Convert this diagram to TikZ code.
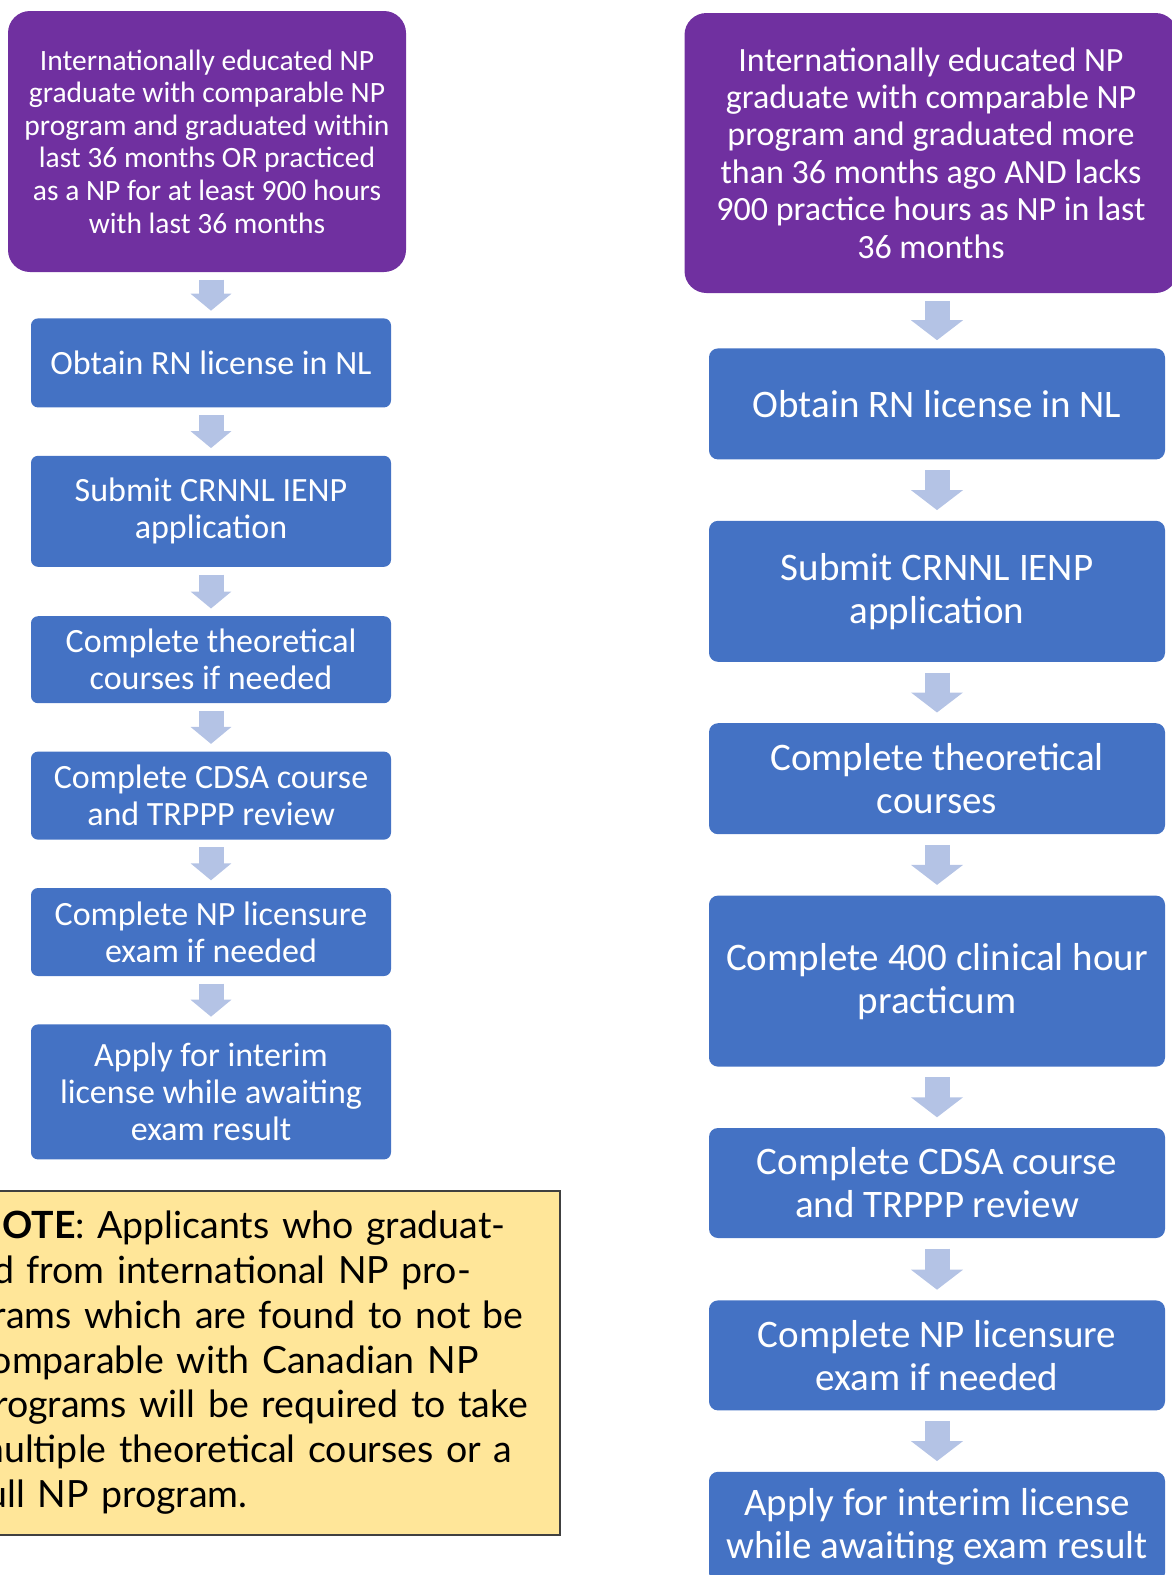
\documentclass[tikz,border=0pt]{standalone}
\usepackage{fontspec}
\setmainfont{Carlito}
\newfontfamily\notefont{Lato}
\usepackage{tikz}
\usetikzlibrary{positioning, arrows.meta}
\definecolor{startpurple}{HTML}{7030A0}
\definecolor{stepblue}{HTML}{4472C4}
\definecolor{flowblue}{HTML}{B4C3E5}
\definecolor{notefill}{HTML}{FFE699}
\definecolor{noteline}{HTML}{404040}

\begin{document}
\begin{tikzpicture}[x=1pt,y=-1pt,
   startbox/.style={fill=startpurple, text=white, rounded corners=22pt, align=center, inner sep=0pt},
   stepL/.style={fill=stepblue, text=white, rounded corners=7pt, align=center, inner sep=0pt,
      minimum width=360pt, font=\fontsize{34}{37}\selectfont},
   stepR/.style={fill=stepblue, text=white, rounded corners=9pt, align=center, inner sep=0pt,
      minimum width=456pt, font=\fontsize{39}{43}\selectfont},
   flowL/.style={draw=flowblue, line width=25pt, -{Triangle[width=40pt,length=17pt]},
      shorten <=7.5pt, shorten >=7.5pt},
   flowR/.style={draw=flowblue, line width=25pt, -{Triangle[width=51pt,length=20pt]},
      shorten <=10.5pt, shorten >=10.5pt},
   notebox/.style={fill=notefill, draw=noteline, line width=1.5pt, anchor=north west,
      minimum width=600pt, minimum height=344pt, text width=573pt, align=left, inner xsep=13pt,
      font=\notefont\fontsize{37.5}{44.8}\selectfont}]
\path[use as bounding box, clip] (0,0) rectangle (1172,1575);

% left column
\node[startbox, minimum width=398pt, minimum height=261pt, font=\fontsize{29.5}{32.6}\selectfont] (l1) at (207,141.5)
   {Internationally educated NP\\graduate with comparable NP\\program and graduated within\\last 36 months OR practiced\\as a NP for at least 900 hours\\with last 36 months};
\node[stepL, minimum height=89pt, below=46pt of l1, xshift=4pt] (l2) {Obtain RN license in NL};
\node[stepL, minimum height=111pt, below=48pt of l2] (l3) {Submit CRNNL IENP\\application};
\node[stepL, minimum height=87pt, below=49pt of l3] (l4) {Complete theoretical\\courses if needed};
\node[stepL, minimum height=88pt, below=48pt of l4] (l5) {Complete CDSA course\\and TRPPP review};
\node[stepL, minimum height=88pt, below=48pt of l5] (l6) {Complete NP licensure\\exam if needed};
\node[stepL, minimum height=135pt, below=48pt of l6] (l7) {Apply for interim\\license while awaiting\\exam result};

\draw[flowL] (l2.north |- l1.south) -- (l2.north);
\foreach \a/\b in {l2/l3,l3/l4,l4/l5,l5/l6,l6/l7}
   \draw[flowL] (\a) -- (\b);

% note
\node[notebox] (note) at (-41,1190)
   {\textbf{NOTE}: Applicants who graduat-\\
    ed from international NP pro-\\
    grams which are found to not be\\
    comparable with Canadian NP\\
    programs will be required to take\\
    multiple theoretical courses or a\\
    full NP program.};

% right column
\node[startbox, minimum width=493pt, minimum height=280pt, font=\fontsize{34}{37.4}\selectfont] (r1) at (931,153)
   {Internationally educated NP\\graduate with comparable NP\\program and graduated more\\than 36 months ago AND lacks\\900 practice hours as NP in last\\36 months};
\node[stepR, minimum height=111pt, below=55pt of r1, xshift=6pt] (r2) {Obtain RN license in NL};
\node[stepR, minimum height=141pt, below=61pt of r2] (r3) {Submit CRNNL IENP\\application};
\node[stepR, minimum height=111pt, below=61pt of r3] (r4) {Complete theoretical\\courses};
\node[stepR, minimum height=171pt, below=61pt of r4] (r5) {Complete 400 clinical hour\\practicum};
\node[stepR, minimum height=110pt, below=61pt of r5] (r6) {Complete CDSA course\\and TRPPP review};
\node[stepR, minimum height=110pt, below=62pt of r6] (r7) {Complete NP licensure\\exam if needed};
\node[stepR, minimum height=110pt, below=61pt of r7] (r8) {Apply for interim license\\while awaiting exam result};

\draw[flowR, shorten <=8pt, shorten >=8pt] (r2.north |- r1.south) -- (r2.north);
\foreach \a/\b in {r2/r3,r3/r4,r4/r5,r5/r6,r6/r7,r7/r8}
   \draw[flowR] (\a) -- (\b);
\end{tikzpicture}
\end{document}
